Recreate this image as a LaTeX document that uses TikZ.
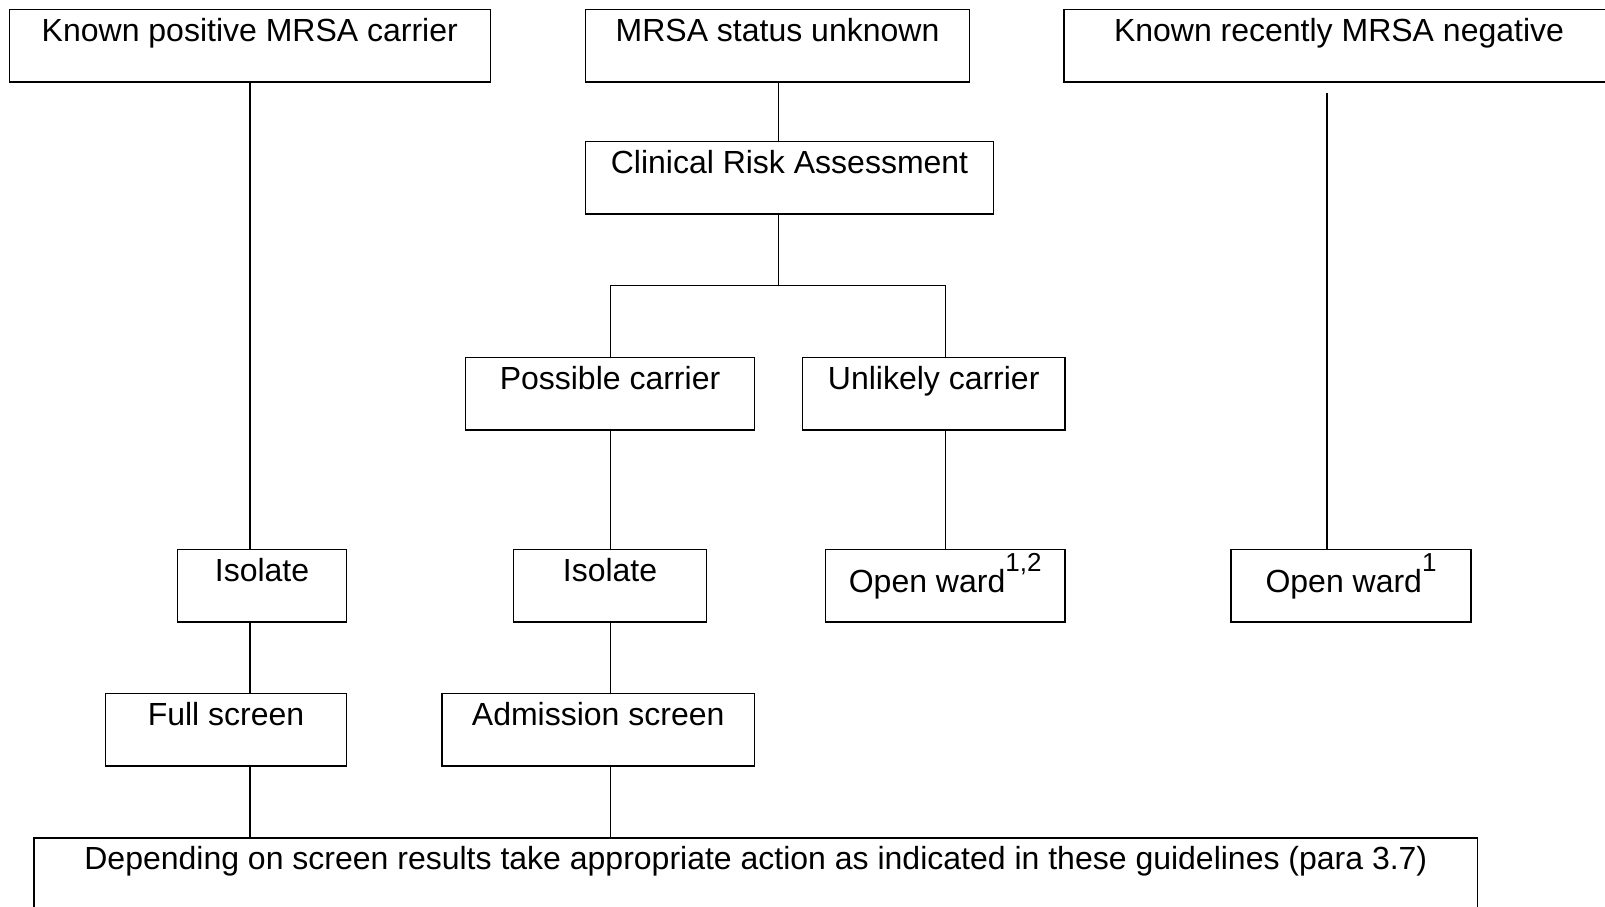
\documentclass[tikz,border=0pt]{standalone}
\usepackage{fontspec}
\setmainfont{Liberation Sans}
\newcommand{\supmark}[1]{\raisebox{20.7pt}{\fontsize{26}{26}\selectfont #1}}
\begin{document}
\begin{tikzpicture}[x=1pt,y=-1pt,
  box/.style={draw, line width=1.6pt, inner xsep=0pt, inner ysep=0pt,
    text height=32pt, text depth=40.7pt, minimum height=72.7pt,
    font=\fontsize{32}{38}\selectfont},
  supbox/.style={box, text height=42.7pt, text depth=30pt},
  conn/.style={line width=1.3pt}]
\useasboundingbox (0,0) rectangle (1605,906);
\clip (0,0) rectangle (1605,906);
% row 1
\node[box, minimum width=481pt]   (kp)   at (249.8,45.65) {Known positive MRSA carrier};
\node[box, minimum width=383.7pt] (unk)  at (777.5,45.65) {MRSA status unknown};
\node[box, minimum width=550pt]   (neg)  at (1339,45.65) {Known recently MRSA negative};
% clinical
\node[box, minimum width=407.7pt] (clin) at (789.5,177.85) {Clinical Risk Assessment};
% carriers
\node[box, minimum width=289.3pt] (poss) at (610,393.85) {Possible carrier};
\node[box, minimum width=262.2pt] (unl)  at (933.7,393.85) {Unlikely carrier};
% isolate / open ward
\node[box, minimum width=168.8pt] (iso1) at (262,585.65) {Isolate};
\node[box, minimum width=193.3pt] (iso2) at (610,585.65) {Isolate};
\node[supbox, minimum width=239.3pt] (ow12) at (945.15,585.65) {Open ward\supmark{1,2}};
\node[supbox, minimum width=240pt] (ow1) at (1351,585.65) {Open ward\supmark{1}};
% screens
\node[box, minimum width=240.8pt] (full) at (226,729.85) {Full screen};
\node[box, minimum width=312.8pt] (adm)  at (598.2,729.85) {Admission screen};
% bottom
\node[box, minimum width=1443.4pt, text depth=42pt] (bot) at (755.9,874.7) {Depending on screen results take appropriate action as indicated in these guidelines (para 3.7)};
% connector coordinates
\coordinate (lx) at (250,0);
\coordinate (cx) at (778.6,0);
\coordinate (sp) at (778.6,285.7);
\coordinate (spl) at (610.7,285.7);
\coordinate (spr) at (945.4,285.7);
\coordinate (negend) at (1327,93.3);
% connectors
\draw[conn] (kp.south -| lx) -- (iso1.north -| lx);
\draw[conn] (iso1.south -| lx) -- (full.north -| lx);
\draw[conn] (full.south -| lx) -- (bot.north -| lx);
\draw[conn] (unk.south -| cx) -- (clin.north -| cx);
\draw[conn] (clin.south -| cx) -- (sp);
\draw[conn] (poss.north -| spl) -- (spl) -- (spr) -- (unl.north -| spr);
\draw[conn] (poss.south -| spl) -- (iso2.north -| spl);
\draw[conn] (iso2.south -| spl) -- (adm.north -| spl);
\draw[conn] (adm.south -| spl) -- (bot.north -| spl);
\draw[conn] (unl.south -| spr) -- (ow12.north -| spr);
\draw[conn] (negend) -- (ow1.north -| negend);
\end{tikzpicture}
\end{document}
